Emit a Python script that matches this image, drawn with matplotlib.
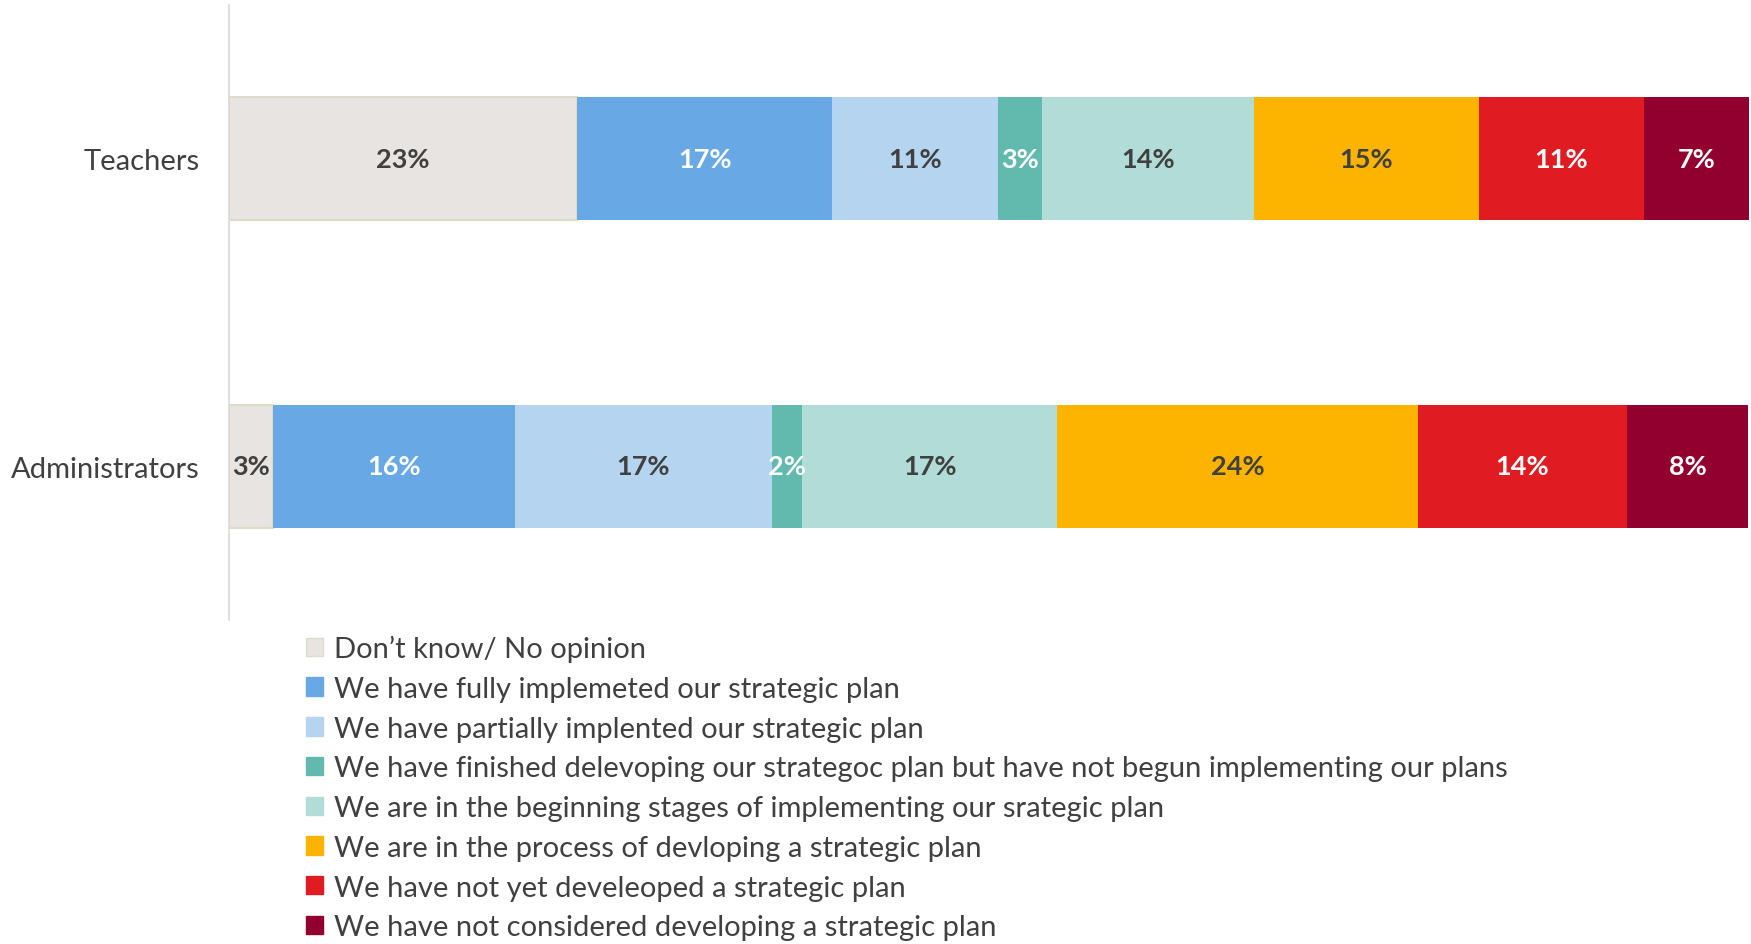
import matplotlib
matplotlib.use("Agg")
import matplotlib.pyplot as plt
from matplotlib.patches import Patch
from matplotlib import font_manager

names = {f.name for f in font_manager.fontManager.ttflist}
fam = "Liberation Sans Narrow" if "Liberation Sans Narrow" in names else "Lato"
plt.rcParams['font.family'] = [fam, 'DejaVu Sans']

groups = ["Teachers", "Administrators"]
series = [
    "Don\u2019t know/ No opinion",
    "We have fully implemeted our strategic plan",
    "We have partially implented our strategic plan",
    "We have finished delevoping our strategoc plan but have not begun implementing our plans",
    "We are in the beginning stages of implementing our srategic plan",
    "We are in the process of devloping a strategic plan",
    "We have not yet develeoped a strategic plan",
    "We have not considered developing a strategic plan",
]
teachers = [22.9, 16.8, 10.9, 2.9, 13.9, 14.8, 10.9, 6.9]
administrators = [2.9, 15.9, 16.9, 2.0, 16.8, 23.7, 13.8, 7.9]
teacher_labels = ["23%", "17%", "11%", "3%", "14%", "15%", "11%", "7%"]
admin_labels = ["3%", "16%", "17%", "2%", "17%", "24%", "14%", "8%"]

colors = ["#E7E4E2", "#68A8E4", "#B5D4F0", "#62B9AD", "#B1DCD7", "#FDB400", "#E01B22", "#92002F"]
text_colors = ["#404040", "white", "#404040", "white", "#404040", "#404040", "white", "white"]

fig = plt.figure(figsize=(17.51, 9.45), dpi=100)
ax = fig.add_axes([0.1308, 0.3429, 0.8681, 0.6508])

data = [teachers, administrators]
labels = [teacher_labels, admin_labels]
for gi in range(len(groups)):
    left = 0.0
    for si in range(len(series)):
        v = data[gi][si]
        ec = "#DCDCC8" if si == 0 else colors[si]
        ax.barh(gi, v, left=left, height=0.4, color=colors[si], edgecolor=ec,
                linewidth=1.5 if si == 0 else 0)
        ax.text(left + v / 2, gi, labels[gi][si], ha="center", va="center",
                fontsize=19.5, fontweight="bold", color=text_colors[si])
        left += v

ax.set_xlim(0, 100)
ax.set_ylim(1.5, -0.5)
ax.set_yticks(range(len(groups)))
ax.set_yticklabels(groups, fontsize=21, color="#404040")
ax.tick_params(axis="y", length=0, pad=21)
ax.set_xticks([])
for s in ["top", "right", "bottom"]:
    ax.spines[s].set_visible(False)
ax.spines["left"].set_color("#D9D9D9")
ax.spines["left"].set_linewidth(1.2)

handles = [Patch(facecolor=colors[i], edgecolor=("#DCDCC8" if i == 0 else colors[i]),
                 label=series[i]) for i in range(len(series))]
fig.legend(handles=handles, loc="upper left", bbox_to_anchor=(0.1745, 0.327),
           frameon=False, fontsize=21, handlelength=0.6, handleheight=0.6,
           handletextpad=0.37, labelspacing=0.47, labelcolor="#404040",
           borderaxespad=0, borderpad=0)

fig.savefig("out.png", dpi=100)
